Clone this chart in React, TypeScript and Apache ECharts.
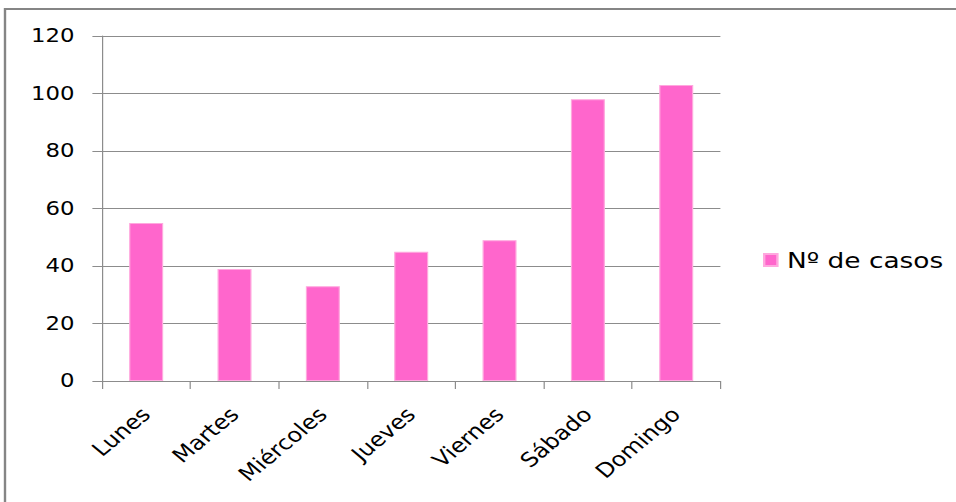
import React, { useEffect, useRef } from "react";
import * as echarts from "echarts";

const days = ["Lunes", "Martes", "Miércoles", "Jueves", "Viernes", "Sábado", "Domingo"];
const casos = [55, 39, 33, 45, 49, 98, 103];
const seriesName = "Nº de casos";

const FONT = "'DejaVu Sans', Verdana, sans-serif";
const GRAY = "#8c8c8c";

// The chart is laid out on a narrower canvas and widened horizontally,
// giving the wide, Verdana-like lettering of the original sheet.
const STRETCH = 1.2;
const PAGE_W = 956;
const PAGE_H = 502;

export default function App() {
  const ref = useRef<HTMLDivElement>(null);

  useEffect(() => {
    if (!ref.current) return;
    const chart = echarts.init(ref.current, null, { renderer: "svg" });
    const sx = (v: number) => v / STRETCH;
    chart.setOption({
      animation: false,
      backgroundColor: "#ffffff",
      textStyle: { fontFamily: FONT },
      graphic: [
        {
          type: "rect",
          shape: { x: sx(5), y: 9, width: 1000, height: 600 },
          style: { fill: "none", stroke: "#858585", lineWidth: 2 },
          silent: true,
        },
      ],
      grid: { left: sx(102), right: sx(236), top: 36, bottom: 121, containLabel: false },
      legend: {
        data: [seriesName],
        left: sx(757),
        top: 243,
        icon: "rect",
        itemWidth: 11,
        itemHeight: 12,
        textStyle: { fontFamily: FONT, fontSize: 22, color: "#000", padding: [0, 0, 0, 3], lineHeight: 24 },
      },
      xAxis: {
        type: "category",
        data: days,
        axisLine: { lineStyle: { color: GRAY, width: 1 } },
        axisTick: { show: true, length: 8, lineStyle: { color: GRAY } },
        axisLabel: {
          rotate: 45,
          margin: 30,
          fontFamily: FONT,
          fontSize: 20,
          color: "#000",
        },
      },
      yAxis: {
        type: "value",
        min: 0,
        max: 120,
        interval: 20,
        axisLine: { show: true, lineStyle: { color: GRAY, width: 1 } },
        axisTick: { show: true, length: 8, lineStyle: { color: GRAY } },
        splitLine: { show: true, lineStyle: { color: GRAY, width: 1 } },
        axisLabel: {
          margin: 23,
          fontFamily: FONT,
          fontSize: 19,
          color: "#000",
        },
      },
      series: [
        {
          name: seriesName,
          type: "bar",
          data: casos,
          barWidth: "38.5%",
          itemStyle: { color: "#ff66cc", borderColor: "#ffa8de", borderWidth: 1 },
        },
      ],
    });
    return () => chart.dispose();
  }, []);

  return (
    <div style={{ position: "absolute", left: 0, top: 0, width: PAGE_W, height: PAGE_H, overflow: "hidden" }}>
      <div
        ref={ref}
        style={{
          width: PAGE_W / STRETCH,
          height: PAGE_H,
          transform: `scaleX(${STRETCH})`,
          transformOrigin: "0 0",
        }}
      />
    </div>
  );
}
